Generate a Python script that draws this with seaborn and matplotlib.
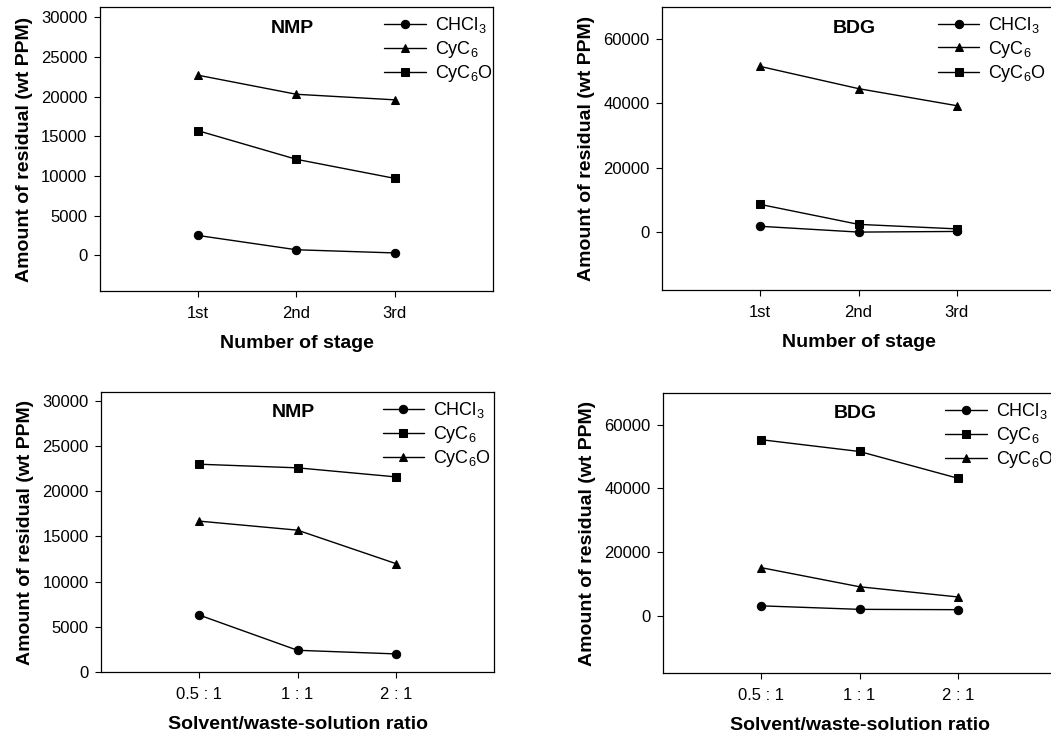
import numpy as np
import pandas as pd
import matplotlib
matplotlib.use("Agg")
import matplotlib.pyplot as plt
import seaborn as sns

# ---- data ----
stage_labels = ["1st", "2nd", "3rd"]
ratio_labels = ["0.5 : 1", "1 : 1", "2 : 1"]
series_names = ["CHCl$_3$", "CyC$_6$", "CyC$_6$O"]

nmp_stage_chcl3 = [2500, 700, 300]
nmp_stage_cyc6 = [22700, 20300, 19600]
nmp_stage_cyc6o = [15700, 12100, 9700]

bdg_stage_chcl3 = [1800, 0, 200]
bdg_stage_cyc6 = [51500, 44600, 39300]
bdg_stage_cyc6o = [8600, 2400, 1000]

nmp_ratio_chcl3 = [6300, 2400, 2000]
nmp_ratio_cyc6 = [23000, 22600, 21600]
nmp_ratio_cyc6o = [16700, 15700, 12000]

bdg_ratio_chcl3 = [3100, 2000, 1900]
bdg_ratio_cyc6 = [55300, 51600, 43200]
bdg_ratio_cyc6o = [15100, 9100, 5900]

sns.set_style("ticks")
plt.rcParams["font.family"] = ["Liberation Sans", "DejaVu Sans"]
plt.rcParams["mathtext.fontset"] = "custom"
plt.rcParams["mathtext.rm"] = "Liberation Sans"
plt.rcParams["mathtext.it"] = "Liberation Sans"
plt.rcParams["mathtext.default"] = "regular"
for k in ["text.color", "axes.labelcolor", "xtick.color", "ytick.color",
          "axes.edgecolor"]:
    plt.rcParams[k] = "black"

fig = plt.figure(figsize=(10.51, 7.39), dpi=100)

panels = [
    ([0.0951, 0.6062, 0.374, 0.3843], "NMP", stage_labels, "Number of stage",
     [nmp_stage_chcl3, nmp_stage_cyc6, nmp_stage_cyc6o], ["o", "^", "s"],
     (-4500, 31300), np.arange(0, 30001, 5000), 0.687),
    ([0.6299, 0.6076, 0.374, 0.3830], "BDG", stage_labels, "Number of stage",
     [bdg_stage_chcl3, bdg_stage_cyc6, bdg_stage_cyc6o], ["o", "^", "s"],
     (-18000, 70000), np.arange(0, 60001, 20000), 0.665),
    ([0.0961, 0.0907, 0.374, 0.3789], "NMP", ratio_labels, "Solvent/waste-solution ratio",
     [nmp_ratio_chcl3, nmp_ratio_cyc6, nmp_ratio_cyc6o], ["o", "s", "^"],
     (0, 31000), np.arange(0, 30001, 5000), 0.68),
    ([0.6308, 0.0893, 0.374, 0.3790], "BDG", ratio_labels, "Solvent/waste-solution ratio",
     [bdg_ratio_chcl3, bdg_ratio_cyc6, bdg_ratio_cyc6o], ["o", "s", "^"],
     (-18000, 70000), np.arange(0, 60001, 20000), 0.682),
]

for pos, title, xlabs, xlabel, vals, markers, ylim, yticks, legx in panels:
    ax = fig.add_axes(pos)
    xpos = np.arange(1, len(xlabs) + 1)
    for name, v, m in zip(series_names, vals, markers):
        df = pd.DataFrame({"x": xpos, "y": v})
        sns.lineplot(data=df, x="x", y="y", ax=ax, color="black", lw=1.0,
                     marker=m, markersize=6,
                     markeredgecolor="black", markerfacecolor="black",
                     label=name)
    ax.set_xlim(0, 4)
    ax.set_ylim(*ylim)
    ax.set_xticks(xpos)
    ax.set_xticklabels(xlabs, fontsize=12)
    ax.set_yticks(yticks)
    ax.set_yticklabels([str(int(t)) for t in yticks], fontsize=12)
    ax.tick_params(axis="both", direction="out", length=4, width=0.8, pad=7,
                   colors="black")
    ax.tick_params(axis="y", pad=5)
    for s in ax.spines.values():
        s.set_linewidth(0.9)
        s.set_color("black")
        s.set_visible(True)
    ax.set_xlabel(xlabel, fontsize=14, fontweight="bold", labelpad=10)
    ax.set_ylabel("Amount of residual (wt PPM)", fontsize=14, fontweight="bold",
                  labelpad=6)
    ax.text(0.49, 0.925, title, transform=ax.transAxes, ha="center", va="center",
            fontsize=14, fontweight="bold")
    ax.legend(loc="upper left", bbox_to_anchor=(legx, 1.022), frameon=False,
              fontsize=13, handlelength=2.3, handletextpad=0.5,
              labelspacing=0.2, borderpad=0.3)

fig.savefig("out.png", dpi=100)
